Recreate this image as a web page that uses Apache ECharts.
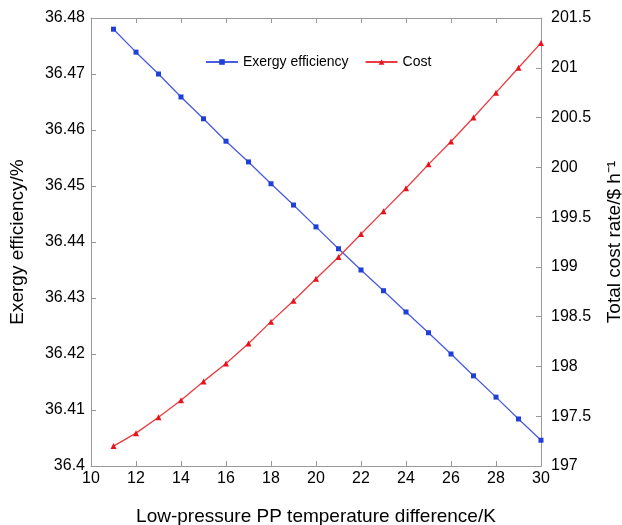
<!DOCTYPE html>
<html lang="en">
<head>
    <meta charset="UTF-8">
    <title>exergy vs cost</title>
    <script src="https://cdn.jsdelivr.net/npm/echarts@6/dist/echarts.min.js"></script>
    <style>
        body { margin: 0; background: #fff; }
    </style>
</head>
<body>
    <div id="main" style="width: 622px;height:525px;"></div>
    <script type="text/javascript">
        // data
        var tempDiff = [11, 12, 13, 14, 15, 16, 17, 18, 19, 20, 21, 22, 23, 24, 25, 26, 27, 28, 29, 30];
        var exergy = [36.4780, 36.4739, 36.4700, 36.4659, 36.4620, 36.4580, 36.4543, 36.4504, 36.4466, 36.4427,
            36.4388, 36.4350, 36.4313, 36.4275, 36.4238, 36.4200, 36.4161, 36.4123, 36.4084, 36.4046];
        var cost = [197.20, 197.33, 197.49, 197.66, 197.85, 198.03, 198.23, 198.45, 198.66, 198.88,
            199.10, 199.33, 199.56, 199.79, 200.03, 200.26, 200.50, 200.75, 201.00, 201.25];

        var exergyPts = tempDiff.map(function (x, i) { return [x, exergy[i]]; });
        var costPts = tempDiff.map(function (x, i) { return [x, cost[i]]; });

        var font = 'Liberation Sans, Arial, sans-serif';
        var axisGray = '#999';

        var myChart = echarts.init(document.getElementById('main'));

        var option = {
            backgroundColor: '#fff',
            animation: false,
            grid: { left: 91, right: 81, top: 18, bottom: 59, outerBoundsMode: 'none', containLabel: false },
            legend: {
                top: 50,
                left: 200,
                itemWidth: 32,
                itemHeight: 7,
                itemGap: 16,
                textStyle: { fontFamily: font, fontSize: 14, color: '#000' },
                data: ['Exergy efficiency', 'Cost']
            },
            xAxis: [{
                type: 'value',
                min: 10,
                max: 30,
                interval: 2,
                name: 'Low-pressure PP temperature difference/K',
                nameLocation: 'middle',
                nameGap: 41,
                nameTextStyle: { fontFamily: font, fontSize: 19, color: '#000' },
                axisLine: { lineStyle: { color: axisGray } },
                axisTick: { inside: true, length: 5, lineStyle: { color: axisGray } },
                axisLabel: { fontFamily: font, fontSize: 16, color: '#000', margin: 5 },
                splitLine: { show: false }
            }, {
                type: 'value',
                position: 'top',
                min: 10,
                max: 30,
                interval: 2,
                axisLine: { show: true, lineStyle: { color: axisGray } },
                axisTick: { show: true, inside: true, length: 5, lineStyle: { color: axisGray } },
                axisLabel: { show: false },
                splitLine: { show: false }
            }],
            yAxis: [{
                type: 'value',
                min: 36.4,
                max: 36.48,
                interval: 0.01,
                name: 'Exergy efficiency/%',
                nameLocation: 'middle',
                nameGap: 64,
                nameTextStyle: { fontFamily: font, fontSize: 19, color: '#000' },
                axisLine: { show: true, lineStyle: { color: axisGray } },
                axisTick: { show: true, inside: true, length: 5, lineStyle: { color: axisGray } },
                axisLabel: {
                    fontFamily: font, fontSize: 16, color: '#000', margin: 6,
                    formatter: function (v) { return String(parseFloat(v.toFixed(2))); }
                },
                splitLine: { show: false }
            }, {
                type: 'value',
                position: 'right',
                min: 197,
                max: 201.5,
                interval: 0.5,
                name: 'Total cost rate/$ h⁻¹',
                nameLocation: 'middle',
                nameRotate: 90,
                nameGap: 64,
                nameTextStyle: { fontFamily: font, fontSize: 19, color: '#000' },
                axisLine: { show: true, lineStyle: { color: axisGray } },
                axisTick: { show: true, inside: true, length: 5, lineStyle: { color: axisGray } },
                axisLabel: {
                    fontFamily: font, fontSize: 16, color: '#000', margin: 10,
                    formatter: function (v) { return String(parseFloat(v.toFixed(1))); }
                },
                splitLine: { show: false }
            }],
            series: [{
                name: 'Exergy efficiency',
                type: 'line',
                yAxisIndex: 0,
                data: exergyPts,
                symbol: 'rect',
                symbolSize: 5,
                color: '#1f3fd6',
                lineStyle: { width: 1.3, color: '#4a5ce0' },
                itemStyle: { color: '#1f3fd6' }
            }, {
                name: 'Cost',
                type: 'line',
                yAxisIndex: 1,
                data: costPts,
                symbol: 'triangle',
                symbolSize: 6,
                color: '#e8141c',
                lineStyle: { width: 1.3, color: '#ec3b40' },
                itemStyle: { color: '#e8141c' }
            }]
        };

        myChart.setOption(option);
    </script>
</body>
</html>
